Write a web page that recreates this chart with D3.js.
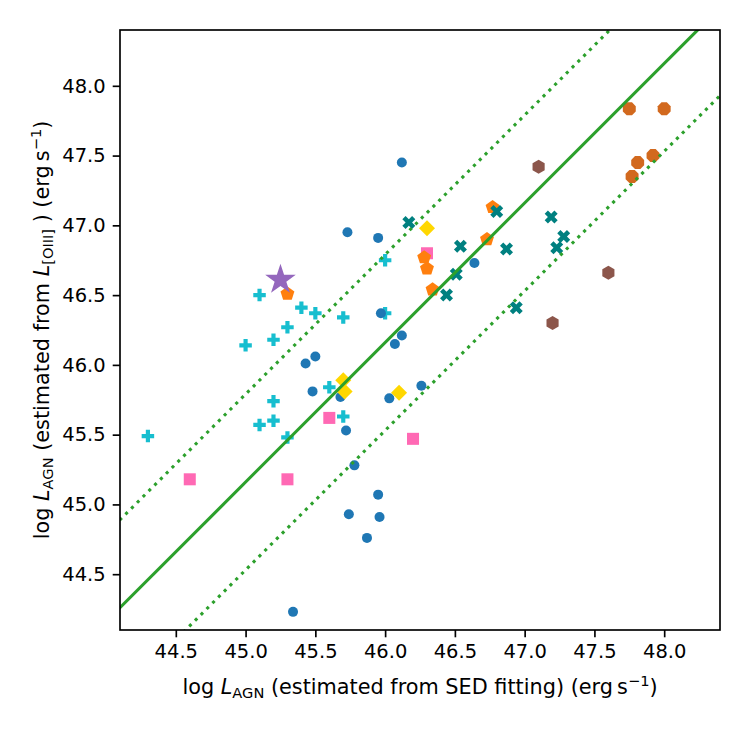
<!DOCTYPE html>
<html lang="en">
<head>
<meta charset="UTF-8" />
<title>L_AGN SED vs OIII</title>
<style>
  body { margin: 0; background: #fff; }
  text { font-family: "DejaVu Sans", sans-serif; fill: #000; }
</style>
</head>
<body>
<svg width="750" height="750" id="svg"></svg>
<script src="https://cdn.jsdelivr.net/npm/d3@7"></script>
<script>
// values: [log L_AGN (SED), log L_AGN ([OIII])]
const cyanPlus = [[44.3,45.49],[45.0,46.14],[45.1,46.5],[45.2,46.18],[45.3,46.27],[45.4,46.41],[45.5,46.37],
  [45.7,46.34],[46.0,46.75],[46.0,46.37],[45.6,45.84],[45.2,45.74],[45.7,45.63],[45.2,45.6],[45.1,45.57],[45.3,45.48]];
const blueCircles = [[45.73,46.95],[46.12,47.45],[45.95,46.91],[46.64,46.73],[45.97,46.37],[45.5,46.06],[45.43,46.01],
  [45.48,45.81],[45.68,45.77],[45.72,45.53],[45.78,45.28],[46.12,46.21],[46.07,46.15],[46.26,45.85],[46.03,45.76],
  [45.95,45.07],[45.74,44.93],[45.96,44.91],[45.87,44.76],[45.34,44.23]];
const pinkSquares = [[44.6,45.18],[45.3,45.18],[45.6,45.62],[46.2,45.47],[46.3,46.8]];
const goldDiamonds = [[45.7,45.89],[45.71,45.81],[46.1,45.8],[46.3,46.98]];
const orangePentagons = [[45.3,46.51],[46.28,46.77],[46.3,46.69],[46.34,46.54],[46.73,46.9],[46.77,47.13]];
const tealCrosses = [[46.17,47.02],[46.8,47.1],[47.19,47.06],[46.54,46.85],[46.87,46.83],[47.23,46.84],
  [47.28,46.92],[46.51,46.65],[46.44,46.5],[46.94,46.41]];
const chocoOctagons = [[47.75,47.835],[48.0,47.835],[47.92,47.5],[47.81,47.45],[47.77,47.35]];
const brownHexagons = [[47.1,47.42],[47.6,46.66],[47.2,46.3]];
const purpleStar = [[45.25,46.61]];

const xTicks = [44.5,45.0,45.5,46.0,46.5,47.0,47.5,48.0];
const yTicks = [44.5,45.0,45.5,46.0,46.5,47.0,47.5,48.0];
const fitOffset = 0.16;     // solid line: y = x + 0.16
const fitScatter = 0.63;    // dotted lines: +/- 0.63 dex

const svg = d3.select("#svg");
const margin = { top: 30, left: 120, right: 30, bottom: 120 };
const width = 750 - margin.left - margin.right;
const height = 750 - margin.top - margin.bottom;
const g = svg.append("g").attr("transform", `translate(${margin.left},${margin.top})`);

const x = d3.scaleLinear().domain([44.1, 48.4]).range([0, width]);
const y = d3.scaleLinear().domain([44.1, 48.4]).range([height, 0]);

// marker shapes
function poly(n, r, rot) {
  const pts = d3.range(n).map(i => {
    const a = rot + i * 2 * Math.PI / n;
    return [r * Math.sin(a), -r * Math.cos(a)];
  });
  return "M" + pts.join("L") + "Z";
}
function plusPath(s) {
  const p = [[-1,-3],[-1,-1],[-3,-1],[-3,1],[-1,1],[-1,3],[1,3],[1,1],[3,1],[3,-1],[1,-1],[1,-3]];
  return "M" + p.map(d => [d[0] * s / 6, d[1] * s / 6]).join("L") + "Z";
}
function xPath(s) {
  const p = [[-1,-2],[0,-1],[1,-2],[2,-1],[1,0],[2,1],[1,2],[0,1],[-1,2],[-2,1],[-1,0],[-2,-1]];
  return "M" + p.map(d => [d[0] * s / 4, d[1] * s / 4]).join("L") + "Z";
}

const series = [
  { data: cyanPlus, color: "#17becf", path: plusPath(12.5) },
  { data: blueCircles, color: "#1f77b4", path: d3.symbol(d3.symbolCircle, Math.PI * 25)() },
  { data: pinkSquares, color: "#ff69b4", path: poly(4, 8.5, Math.PI / 4) },
  { data: goldDiamonds, color: "#ffd700", path: poly(4, 8, 0) },
  { data: orangePentagons, color: "#ff7f0e", path: poly(5, 7.3, 0) },
  { data: tealCrosses, color: "#008080", path: xPath(13) },
  { data: chocoOctagons, color: "#d2691e", path: poly(8, 7, Math.PI / 8) },
  { data: brownHexagons, color: "#8c564b", path: poly(6, 7, 0) },
  { data: purpleStar, color: "#9467bd", path: d3.symbol(d3.symbolStar, 290)() }
];

series.forEach(s => {
  g.append("g").selectAll("path")
    .data(s.data)
    .join("path")
    .attr("d", s.path)
    .attr("fill", s.color)
    .attr("transform", d => `translate(${x(d[0])},${y(d[1])})`);
});

// relation lines
g.append("clipPath").attr("id", "clip")
  .append("rect").attr("width", width).attr("height", height);
const lineG = g.append("g").attr("clip-path", "url(#clip)");
const xs = x.domain();
const lines = [
  { off: fitOffset, dash: null },
  { off: fitOffset + fitScatter, dash: "3.1 5.1" },
  { off: fitOffset - fitScatter, dash: "3.1 5.1" }
];
lines.forEach(l => {
  lineG.append("line")
    .attr("x1", x(xs[0] - 1)).attr("y1", y(xs[0] - 1 + l.off))
    .attr("x2", x(xs[1] + 1)).attr("y2", y(xs[1] + 1 + l.off))
    .attr("stroke", "#2ca02c")
    .attr("stroke-width", 3.1)
    .attr("stroke-dasharray", l.dash);
});

// axes
const fmt = d3.format(".1f");
const xAxis = g.append("g").attr("transform", `translate(0,${height})`)
  .call(d3.axisBottom(x).tickValues(xTicks).tickFormat(fmt).tickSize(7.3).tickPadding(7).tickSizeOuter(0));
const yAxis = g.append("g")
  .call(d3.axisLeft(y).tickValues(yTicks).tickFormat(fmt).tickSize(7.3).tickPadding(7).tickSizeOuter(0));
[xAxis, yAxis].forEach(a => {
  a.select(".domain").remove();
  a.selectAll(".tick line").attr("stroke", "#000").attr("stroke-width", 1.67);
  a.selectAll(".tick text").attr("font-size", 19.5).attr("font-family", "DejaVu Sans").attr("fill", "#000");
});

g.append("rect")
  .attr("width", width).attr("height", height)
  .attr("fill", "none").attr("stroke", "#000").attr("stroke-width", 1.67);

// axis labels
const fs = 20.8, sub = 14.6;
function label(sel, mid) {
  sel.append("tspan").text("log ");
  sel.append("tspan").attr("font-style", "italic").text("L");
  sel.append("tspan").attr("font-size", sub).attr("dy", 4).text("AGN");
  sel.append("tspan").attr("dy", -4).text(" ");
  mid(sel);
  sel.append("tspan").text("(erg\u2009s");
  sel.append("tspan").attr("font-size", sub).attr("dy", -8).text("\u22121");
  sel.append("tspan").attr("dy", 8).text(")");
}

const xLabel = svg.append("text")
  .attr("x", margin.left + width / 2).attr("y", 694)
  .attr("text-anchor", "middle").attr("font-size", fs);
label(xLabel, s => s.append("tspan").text("(estimated from SED fitting) "));

const yLabel = svg.append("text")
  .attr("transform", `translate(49,${margin.top + height / 2}) rotate(-90)`)
  .attr("text-anchor", "middle").attr("font-size", fs);
label(yLabel, s => {
  s.append("tspan").text("(estimated from ");
  s.append("tspan").attr("font-style", "italic").text("L");
  s.append("tspan").attr("font-size", sub).attr("dy", 4).text("[OIII]");
  s.append("tspan").attr("dy", -4).text(" ) ");
});
</script>
</body>
</html>
